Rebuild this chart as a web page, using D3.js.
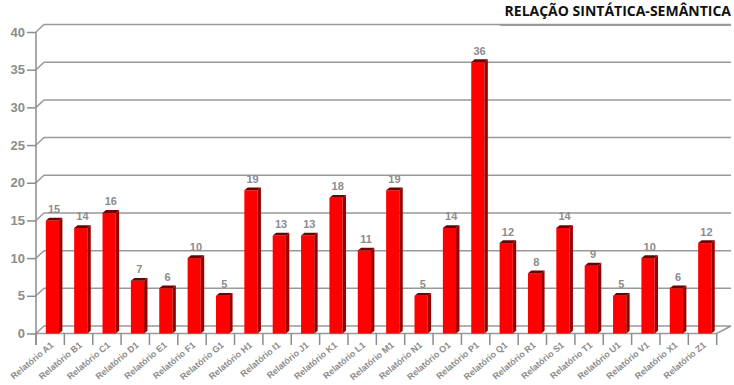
<!DOCTYPE html>
<html>
<head>
<meta charset="utf-8">
<script src="https://cdn.jsdelivr.net/npm/d3@7"></script>
<style>
  html, body { margin: 0; padding: 0; background: #fff; }
  svg { display: block; }
</style>
</head>
<body>
<div id="chart"></div>
<script>
// Chart data
const title = "RELAÇÃO SINTÁTICA-SEMÂNTICA";
const categories = [
  "Relatório A1", "Relatório B1", "Relatório C1", "Relatório D1", "Relatório E1",
  "Relatório F1", "Relatório G1", "Relatório H1", "Relatório I1", "Relatório J1",
  "Relatório K1", "Relatório L1", "Relatório M1", "Relatório N1", "Relatório O1",
  "Relatório P1", "Relatório Q1", "Relatório R1", "Relatório S1", "Relatório T1",
  "Relatório U1", "Relatório V1", "Relatório X1", "Relatório Z1"
];
const values = [15, 14, 16, 7, 6, 10, 5, 19, 13, 13, 18, 11, 19, 5, 14, 36, 12, 8, 14, 9, 5, 10, 6, 12];
const yTickValues = [0, 5, 10, 15, 20, 25, 30, 35, 40];

const W = 734, H = 385;
const axisX = 36;          // front y-axis position
const plotRight = 716.7;   // front right end of the category axis
const wallRight = 731;     // right end of the back wall
const depthX = 8, depthY = -7.5;   // back wall offset
const barDX = 3.4, barDY = -2.8;   // bar depth
const grey = "#8c8c8c";

const svg = d3.select("#chart").append("svg")
  .attr("width", W).attr("height", H);

const x = d3.scaleBand().domain(categories).range([axisX, plotRight]).padding(0);
const y = d3.scaleLinear().domain([0, 40]).range([333.5, 32]);

// Title with underline
svg.append("text")
  .attr("x", 731).attr("y", 16)
  .attr("text-anchor", "end")
  .attr("font-family", "'Open Sans', sans-serif")
  .attr("font-weight", "bold")
  .attr("font-size", 14)
  .attr("fill", "#111")
  .text(title);
svg.append("line")
  .attr("x1", 500).attr("x2", 731).attr("y1", 25).attr("y2", 25)
  .attr("stroke", "#a0a0a0").attr("stroke-width", 2);

// Back wall grid lines (with diagonal from the front axis)
const grid = svg.append("g").attr("fill", "none").attr("stroke", "#999").attr("stroke-width", 1.5);
yTickValues.filter(v => v > 0).forEach(v => {
  const yy = y(v);
  grid.append("path")
    .attr("d", `M${axisX},${yy}L${axisX + depthX},${yy + depthY}L${wallRight},${yy + depthY}`);
});

// Floor
const y0 = y(0);
grid.append("path")
  .attr("d", `M${axisX},${y0}L${axisX + depthX},${y0 + depthY}L${wallRight},${y0 + depthY}L${plotRight},${y0}Z`);

// Y axis
const yAxis = d3.axisLeft(y).tickValues(yTickValues).tickSize(9).tickSizeOuter(0).tickPadding(2);
const gy = svg.append("g").attr("transform", `translate(${axisX},0)`).call(yAxis);
gy.select(".domain").remove();
gy.selectAll(".tick line").attr("stroke", grey).attr("stroke-width", 1.5);
gy.selectAll(".tick text")
  .attr("fill", grey)
  .attr("font-family", "'Liberation Sans', Arial, sans-serif")
  .attr("font-weight", "bold")
  .attr("font-size", 13);
svg.append("line")
  .attr("x1", axisX).attr("x2", axisX).attr("y1", y(40)).attr("y2", 345)
  .attr("stroke", grey).attr("stroke-width", 1.5);

// Category ticks at band boundaries
const bounds = categories.map(c => x(c)).concat([plotRight]);
svg.append("g").selectAll("line").data(bounds).join("line")
  .attr("x1", d => d).attr("x2", d => d)
  .attr("y1", y0).attr("y2", 345)
  .attr("stroke", grey).attr("stroke-width", 1.5);

// Bars
const bw = 13.2, bOff = 9.8;
const data = categories.map((c, i) => ({ c, v: values[i] }));
const bars = svg.append("g").selectAll("g").data(data).join("g");
bars.append("rect")
  .attr("x", d => x(d.c) + bOff)
  .attr("y", d => y(d.v))
  .attr("width", bw)
  .attr("height", d => y0 - y(d.v))
  .attr("fill", "#ff0000");
bars.append("path")
  .attr("d", d => {
    const xr = x(d.c) + bOff + bw, yt = y(d.v);
    return `M${xr},${yt}L${xr + barDX},${yt + barDY}L${xr + barDX},${y0 + barDY}L${xr},${y0}Z`;
  })
  .attr("fill", "#990000");
bars.append("path")
  .attr("d", d => {
    const xl = x(d.c) + bOff, yt = y(d.v);
    return `M${xl},${yt}L${xl + barDX},${yt + barDY}L${xl + bw + barDX},${yt + barDY}L${xl + bw},${yt}Z`;
  })
  .attr("fill", "#6e0000");

// Value labels
bars.append("text")
  .attr("x", d => x(d.c) + bOff + (bw + barDX) / 2)
  .attr("y", d => y(d.v) - 7.5)
  .attr("text-anchor", "middle")
  .attr("font-family", "'Liberation Sans', Arial, sans-serif")
  .attr("font-weight", "bold")
  .attr("font-size", 11)
  .attr("fill", grey)
  .text(d => d.v);

// Category labels, rotated
svg.append("g").selectAll("text").data(categories).join("text")
  .attr("transform", d => `translate(${x(d) + x.bandwidth() / 2 + 4},${346}) rotate(-40)`)
  .attr("text-anchor", "end")
  .attr("font-family", "'Liberation Sans', Arial, sans-serif")
  .attr("font-weight", "bold")
  .attr("font-size", 9)
  .attr("fill", grey)
  .text(d => d);
</script>
</body>
</html>
